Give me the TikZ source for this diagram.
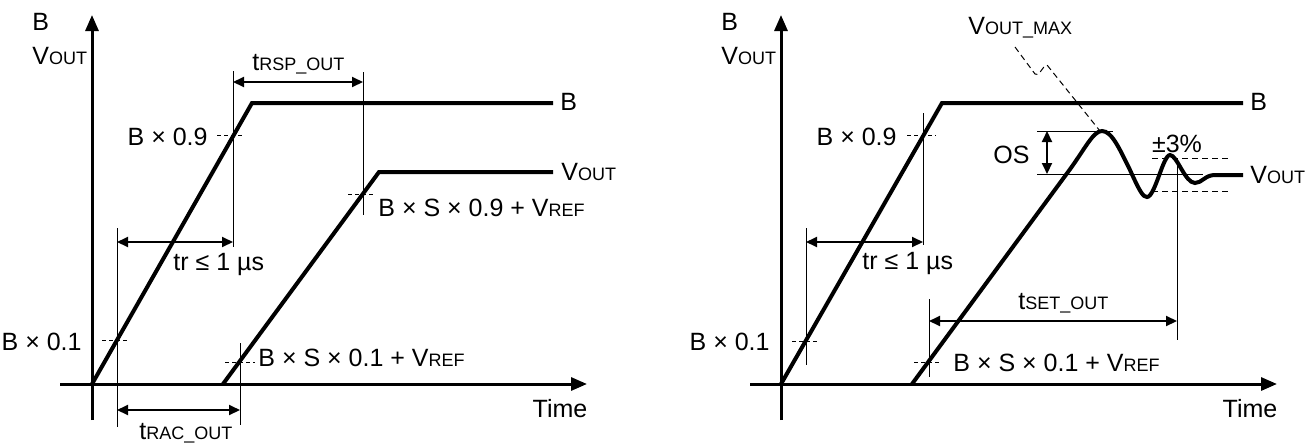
\documentclass[tikz,border=0pt]{standalone}
\usepackage{fontspec}
\setmainfont{Liberation Sans}
\usetikzlibrary{arrows.meta}
\newcommand{\sub}[1]{{\fontsize{9}{10}\selectfont #1}}
\tikzset{
  axis/.style={line width=1.5pt,-{Triangle[length=8pt,width=6.5pt]}},
  signal/.style={line width=2pt},
  guide/.style={line width=0.5pt},
  tick/.style={line width=0.4pt,dash pattern=on 2pt off 1.5pt},
  band/.style={line width=0.5pt,dash pattern=on 3pt off 2pt},
  dim/.style={line width=1pt,{Triangle[length=5.5pt,width=5pt]}-{Triangle[length=5.5pt,width=5pt]}},
  lbl/.style={inner sep=0pt,font=\fontsize{12.5}{14}\selectfont}
}
\begin{document}
\begin{tikzpicture}[x=0.5pt,y=-0.5pt]
\useasboundingbox (0,0) rectangle (1306,445);
% left: response time
\draw[axis] (60,384) -- (587,384);
\draw[axis] (92,420) -- (92,15);
\node[lbl] (time1) at (560,409) {Time};
\node[lbl,anchor=west] (ya1) at (32,22) {B};
\node[lbl,anchor=west] (yb1) at (32,56) {V\sub{OUT}};
\draw[signal] (92,384) -- (252,103) -- (553,103);
\draw[signal] (223,384) -- (379,172) -- (553,172);
\node[lbl,anchor=west] (sb1) at (560,102) {B};
\node[lbl,anchor=west] (sv1) at (561,172) {V\sub{OUT}};
\draw[guide] (233,71) -- (233,247);
\draw[guide] (117,228) -- (117,427);
\draw[guide] (363,72) -- (363,215);
\draw[guide] (240,343) -- (240,425);
\draw[tick] (217,135) -- (245,135);
\draw[tick] (102,340) -- (130,340);
\draw[tick] (348,194) -- (375,194);
\draw[tick] (225,362) -- (255,362);
\draw[dim] (117,242) -- (233,242);
\draw[dim] (233,82) -- (363,82);
\draw[dim] (117,410) -- (240,410);
\node[lbl,anchor=east] (b09a) at (208,137) {B × 0.9};
\node[lbl,anchor=east] (b01a) at (82,342) {B × 0.1};
\node[lbl,anchor=west] (tra) at (173,264) {tr ≤ 1 µs};
\node[lbl,anchor=west] (trsp) at (252,64) {t\sub{RSP\_OUT}};
\node[lbl,anchor=west] (s09) at (378,208) {B × S × 0.9 + V\sub{REF}};
\node[lbl,anchor=west] (s01a) at (258,358) {B × S × 0.1 + V\sub{REF}};
\node[lbl,anchor=west] (trac) at (139,433) {t\sub{RAC\_OUT}};
% right: settling time
\draw[axis] (750,384) -- (1277,384);
\draw[axis] (781,420) -- (781,15);
\node[lbl] (time2) at (1250,409) {Time};
\node[lbl,anchor=west] (ya2) at (721,22) {B};
\node[lbl,anchor=west] (yb2) at (721,56) {V\sub{OUT}};
\draw[signal] (781,384) -- (942,103) -- (1243,103);
\node[lbl,anchor=west] (sb2) at (1250,102) {B};
\draw[signal] (912,384) -- (1068,172)
  .. controls (1085,149) and (1093,131) .. (1102,131)
  .. controls (1112,131) and (1120,150) .. (1130,170)
  .. controls (1140,192) and (1143,197) .. (1147,197)
  .. controls (1155,197) and (1163,155) .. (1170,155)
  .. controls (1177,155) and (1185,183) .. (1195,183)
  .. controls (1202,183) and (1205,175) .. (1215,175) -- (1243,175);
\node[lbl,anchor=west] (sv2) at (1250,175) {V\sub{OUT}};
\draw[guide] (923,113) -- (923,245);
\draw[guide] (806,228) -- (806,365);
\draw[guide] (929,299) -- (929,377);
\draw[guide] (1177,160) -- (1177,340);
\draw[tick] (907,135) -- (936,135);
\draw[tick] (792,341) -- (820,341);
\draw[tick] (914,362) -- (940,362);
\draw[dim] (806,242) -- (923,242);
\draw[dim] (929,321) -- (1177,321);
\node[lbl,anchor=east] (b09b) at (897,137) {B × 0.9};
\node[lbl,anchor=east] (b01b) at (770,342) {B × 0.1};
\node[lbl,anchor=west] (trb) at (862,263) {tr ≤ 1 µs};
\node[lbl,anchor=west] (tset) at (1018,303) {t\sub{SET\_OUT}};
\node[lbl,anchor=west] (s01b) at (953,363) {B × S × 0.1 + V\sub{REF}};
% overshoot and band
\draw[guide] (1037,131) -- (1113,131);
\draw[guide] (1037,174) -- (1203,174);
\draw[dim] (1047,131) -- (1047,174);
\node[lbl,anchor=east] (os) at (1030,155) {OS};
\draw[band] (1152,158) -- (1228,158);
\draw[band] (1152,191) -- (1228,191);
\node[lbl] (pm) at (1177,144) {±3\%};
\node[lbl,anchor=west] (vmax) at (968,28) {V\sub{OUT\_MAX}};
\draw[band] (1015,47) -- (1035,74) .. controls (1039,78) and (1042,66) .. (1047,65) -- (1100,131);
\end{tikzpicture}
\end{document}
